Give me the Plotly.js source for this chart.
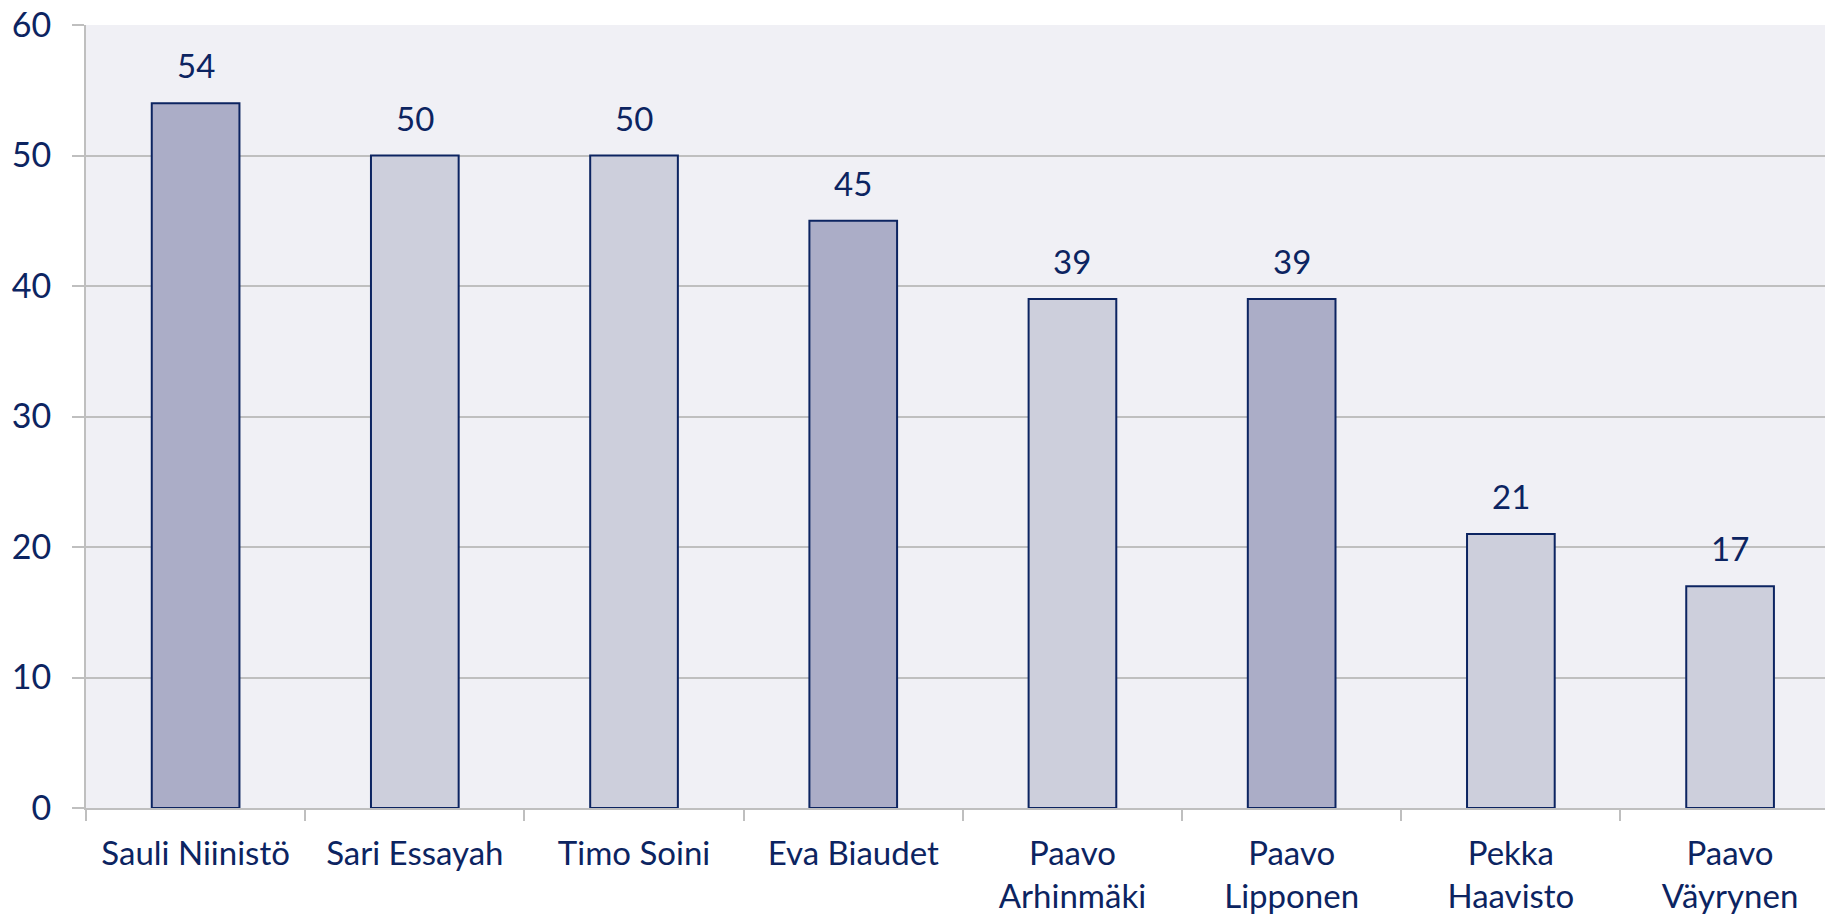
<!DOCTYPE html>
<html><head><meta charset="utf-8">
<script src="https://cdn.plot.ly/plotly-3.0.1.min.js"></script>
<style>html,body{margin:0;padding:0;background:#fff}#chart{width:1825px;height:917px}</style>
</head><body><div id="chart"></div>
<script>
const categories = ["Sauli Niinistö","Sari Essayah","Timo Soini","Eva Biaudet","Paavo<br>Arhinmäki","Paavo<br>Lipponen","Pekka<br>Haavisto","Paavo<br>Väyrynen"];
const values = [54, 50, 50, 45, 39, 39, 21, 17];
const barColors = ["#ABADC7","#CDCFDC","#CDCFDC","#ABADC7","#CDCFDC","#ABADC7","#CDCFDC","#CDCFDC"];
const navy = "#0C2461";

const trace = {
  type: "bar", x: categories, y: values,
  marker: {color: barColors, line: {color: navy, width: 2}},
  width: 0.4, hoverinfo: "none"
};
const annotations = categories.map((c, i) => ({
  x: c, y: values[i], xref: "x", yref: "y", text: String(values[i]),
  showarrow: false, yanchor: "bottom", yshift: 16,
  font: {family: "Lato, 'Open Sans', sans-serif", size: 33, color: navy}
}));
const layout = {
  width: 1825, height: 917,
  margin: {l: 86, r: 0, t: 25, b: 109},
  paper_bgcolor: "#ffffff", plot_bgcolor: "#F0F0F5",
  showlegend: false,
  font: {family: "Lato, 'Open Sans', sans-serif", size: 33, color: navy},
  xaxis: {
    type: "category", range: [-0.5, 7.433],
    tickson: "boundaries", ticks: "outside", ticklen: 11, tickcolor: "#BFBFBF", tickwidth: 2,
    showline: true, linecolor: "#BFBFBF", linewidth: 2,
    showgrid: false, tickfont: {size: 33, color: navy}, ticklabelstandoff: 15
  },
  yaxis: {
    range: [0, 60], dtick: 10, ticks: "outside", ticklen: 12, tickcolor: "#BFBFBF", tickwidth: 2,
    showline: true, linecolor: "#BFBFBF", linewidth: 2,
    gridcolor: "#BFBFBF", gridwidth: 2, zeroline: false,
    tickfont: {size: 34, color: navy}, ticklabelstandoff: 14
  },
  annotations: annotations
};
Plotly.newPlot("chart", [trace], layout, {displayModeBar: false, staticPlot: true});
</script></body></html>
